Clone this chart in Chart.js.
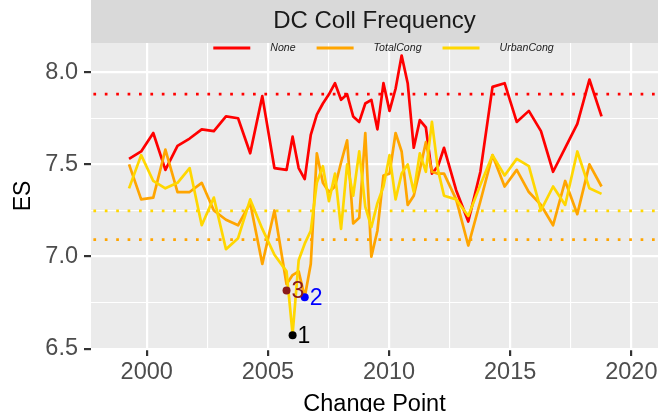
<!DOCTYPE html>
<html>
<head>
<meta charset="utf-8">
<title>DC Coll Frequency</title>
<script src="https://cdn.jsdelivr.net/npm/chart.js@4.4.1/dist/chart.umd.min.js"></script>
<style>
  html, body { margin: 0; padding: 0; background: #ffffff; }
  #es-chart { display: block; }
</style>
</head>
<body>
<canvas id="es-chart" width="662" height="412"></canvas>
<script>
/*global document, Chart*/
(function (document, Chart) {
  "use strict";

  var panelTitle = "DC Coll Frequency";

  // change point (x) shared by all three series
  var years = [
    1999.27, 1999.77, 2000.27, 2000.77, 2001.27, 2001.77, 2002.27, 2002.77,
    2003.27, 2003.77, 2004.27, 2004.77, 2005.27, 2005.77,
    2006.02, 2006.27, 2006.52, 2006.77, 2007.02, 2007.27, 2007.52, 2007.77,
    2008.02, 2008.27, 2008.52, 2008.77, 2009.02, 2009.27, 2009.52, 2009.77,
    2010.02, 2010.27, 2010.52, 2010.77, 2011.02, 2011.27, 2011.52, 2011.77,
    2012.02, 2012.27,
    2012.77, 2013.27, 2013.77, 2014.27, 2014.77, 2015.27, 2015.77, 2016.27,
    2016.77, 2017.27, 2017.77, 2018.27, 2018.77
  ];

  var esNone = [
    7.53, 7.57, 7.67, 7.47, 7.60, 7.64, 7.69, 7.68, 7.76, 7.75, 7.56, 7.87, 7.48, 7.47,
    7.65, 7.48, 7.42, 7.66, 7.77, 7.83, 7.88, 7.94, 7.85, 7.88, 7.76, 7.73, 7.83,
    7.85, 7.69, 7.94, 7.79, 7.91, 8.09, 7.94, 7.59, 7.74, 7.70, 7.45, 7.49, 7.59,
    7.36, 7.19, 7.46, 7.92, 7.94, 7.73, 7.79, 7.68, 7.46, 7.59, 7.72, 7.96, 7.76
  ];

  var esTotalCong = [
    7.50, 7.31, 7.32, 7.58, 7.35, 7.35, 7.40, 7.25, 7.20, 7.17, 7.29, 6.96, 7.25, 6.85,
    6.90, 6.92, 6.78, 6.96, 7.56, 7.40, 7.35, 7.38, 7.51, 7.63, 7.18, 7.21, 7.67,
    7.00, 7.14, 7.44, 7.45, 7.67, 7.57, 7.28, 7.33, 7.47, 7.62, 7.46, 7.45, 7.45,
    7.31, 7.06, 7.30, 7.55, 7.38, 7.47, 7.35, 7.28, 7.17, 7.41, 7.23, 7.50, 7.38
  ];

  var esUrbanCong = [
    7.37, 7.55, 7.41, 7.37, 7.40, 7.48, 7.17, 7.32, 7.04, 7.10, 7.31, 7.15, 7.01, 6.92,
    6.58, 6.98, 7.07, 7.14, 7.40, 7.49, 7.30, 7.45, 7.15, 7.50, 7.33, 7.57, 7.27,
    7.16, 7.29, 7.38, 7.55, 7.31, 7.45, 7.50, 7.35, 7.56, 7.46, 7.73, 7.47, 7.33,
    7.31, 7.22, 7.39, 7.55, 7.44, 7.53, 7.49, 7.25, 7.38, 7.28, 7.57, 7.37, 7.34
  ];

  var seriesNames = ["None", "TotalCong", "UrbanCong"];
  var seriesColors = ["#FF0000", "#FFA500", "#FFD700"];
  // dotted reference level for each series
  var seriesLevels = [7.881, 7.092, 7.248];

  // ranked change points
  var rankYears = [2006.02, 2006.52, 2005.77];
  var rankES = [6.574, 6.780, 6.816];
  var rankLabels = ["1", "2", "3"];
  var rankColors = ["#000000", "#0000FF", "#8B1A1A"];

  var xMajor = [2000, 2005, 2010, 2015, 2020];
  var xMinor = [2002.5, 2007.5, 2012.5, 2017.5];
  var xLabels = ["2000", "2005", "2010", "2015", "2020"];
  var yMajor = [6.5, 7.0, 7.5, 8.0];
  var yMinor = [6.75, 7.25, 7.75];
  var yLabels = ["6.5", "7.0", "7.5", "8.0"];

  var X_MIN = 1997.7, X_MAX = 2021.1;
  var Y_MIN = 6.499, Y_MAX = 8.158;

  var FONT = '"Liberation Sans", Arial, Helvetica, sans-serif';
  var seriesValues = [esNone, esTotalCong, esUrbanCong];

  function toPoints(xs, ys) {
    return xs.map(function (x, i) {
      return {x: x, y: ys[i]};
    });
  }

  function gridTicks(major, minor) {
    return major.concat(minor).sort(function (a, b) { return a - b; })
      .map(function (v) { return {value: v}; });
  }

  function isMajor(list, v) {
    return list.some(function (m) { return Math.abs(m - v) < 1e-6; });
  }

  function labelOf(major, labels, v) {
    var i;
    for (i = 0; i < major.length; i += 1) {
      if (Math.abs(major[i] - v) < 1e-6) {
        return labels[i];
      }
    }
    return "";
  }

  var datasets = [];

  // ranked change points on top
  datasets.push({
    type: "scatter",
    label: "rank",
    data: toPoints(rankYears, rankES),
    pointRadius: 4,
    pointBackgroundColor: rankColors,
    pointBorderWidth: 0,
    order: 0
  });

  seriesNames.forEach(function (name, i) {
    datasets.push({
      type: "line",
      label: name,
      data: toPoints(years, seriesValues[i]),
      borderColor: seriesColors[i],
      borderWidth: 2.7,
      borderJoinStyle: "round",
      pointRadius: 0,
      fill: false,
      order: 3 - i
    });
  });

  seriesLevels.forEach(function (level, i) {
    datasets.push({
      type: "line",
      label: seriesNames[i] + " level",
      data: toPoints([X_MIN, X_MAX], [level, level]),
      borderColor: seriesColors[i],
      borderWidth: 2.7,
      borderDash: [2.7, 8.7],
      borderDashOffset: -2.4,
      borderCapStyle: "butt",
      pointRadius: 0,
      fill: false,
      order: 5
    });
  });

  /////////////////////////////////////////////////////////////////
  // panel background, facet strip, key and point labels
  /////////////////////////////////////////////////////////////////
  var ggFrame = {
    id: "ggFrame",
    beforeDraw: function (chart) {
      var ctx = chart.ctx,
        a = chart.chartArea;
      ctx.save();
      ctx.fillStyle = "#EBEBEB";
      ctx.fillRect(a.left, a.top, a.right - a.left, a.bottom - a.top);
      ctx.fillStyle = "#D9D9D9";
      ctx.fillRect(a.left, 0, a.right - a.left, a.top);
      ctx.fillStyle = "#1A1A1A";
      ctx.font = "24px " + FONT;
      ctx.textAlign = "center";
      ctx.textBaseline = "middle";
      ctx.fillText(panelTitle, (a.left + a.right) / 2, a.top / 2);
      ctx.restore();
    },
    afterDatasetsDraw: function (chart) {
      var ctx = chart.ctx,
        a = chart.chartArea,
        meta = chart.getDatasetMeta(0),
        keyLen = 37,
        gap = 20,
        sep = 21,
        keyY = a.top + 5,
        widths,
        total,
        x;

      ctx.save();
      // key across the top of the panel
      ctx.font = "italic 10.6px " + FONT;
      widths = seriesNames.map(function (n) { return ctx.measureText(n).width; });
      total = widths.reduce(function (s, w) { return s + keyLen + gap + w; }, 0) +
        sep * (seriesNames.length - 1);
      x = (a.left + a.right) / 2 + 9 - total / 2;
      ctx.textAlign = "left";
      ctx.textBaseline = "middle";
      seriesNames.forEach(function (name, i) {
        ctx.strokeStyle = seriesColors[i];
        ctx.lineWidth = 3;
        ctx.beginPath();
        ctx.moveTo(x, keyY);
        ctx.lineTo(x + keyLen, keyY);
        ctx.stroke();
        ctx.fillStyle = "#222222";
        ctx.fillText(name, x + keyLen + gap, keyY);
        x += keyLen + gap + widths[i] + sep;
      });

      // rank numbers next to the change points
      ctx.font = "23px " + FONT;
      meta.data.forEach(function (pt, i) {
        ctx.fillStyle = rankColors[i];
        ctx.fillText(rankLabels[i], pt.x + 5, pt.y + 1);
      });
      ctx.restore();
    }
  };

  new Chart(document.getElementById("es-chart"), {
    data: {datasets: datasets},
    plugins: [ggFrame],
    options: {
      responsive: false,
      animation: false,
      layout: {padding: {top: 43, right: 4, left: 0, bottom: 0}},
      plugins: {
        legend: {display: false},
        tooltip: {enabled: false}
      },
      elements: {line: {tension: 0}},
      scales: {
        x: {
          type: "linear",
          min: X_MIN,
          max: X_MAX,
          afterFit: function (scale) { scale.height = 63; },
          afterBuildTicks: function (scale) { scale.ticks = gridTicks(xMajor, xMinor); },
          border: {display: false},
          grid: {
            color: "#FFFFFF",
            lineWidth: function (c) { return isMajor(xMajor, c.tick.value) ? 2.2 : 1.1; },
            tickLength: 7,
            tickWidth: 2.2,
            tickColor: function (c) {
              return isMajor(xMajor, c.tick.value) ? "#333333" : "rgba(0,0,0,0)";
            }
          },
          ticks: {
            autoSkip: false,
            maxRotation: 0,
            padding: 2,
            color: "#4D4D4D",
            font: {family: FONT, size: 23.5},
            callback: function (v) { return labelOf(xMajor, xLabels, v); }
          },
          title: {
            display: true,
            text: "Change Point",
            color: "#000000",
            font: {family: FONT, size: 23.5, lineHeight: 0.8},
            padding: {top: 0, bottom: -2}
          }
        },
        y: {
          type: "linear",
          min: Y_MIN,
          max: Y_MAX,
          afterFit: function (scale) { scale.width = 91; },
          afterBuildTicks: function (scale) { scale.ticks = gridTicks(yMajor, yMinor); },
          border: {display: false},
          grid: {
            color: "#FFFFFF",
            lineWidth: function (c) { return isMajor(yMajor, c.tick.value) ? 2.2 : 1.1; },
            tickLength: 7,
            tickWidth: 2.2,
            tickColor: function (c) {
              return isMajor(yMajor, c.tick.value) ? "#333333" : "rgba(0,0,0,0)";
            }
          },
          ticks: {
            autoSkip: false,
            padding: 6,
            color: "#4D4D4D",
            font: {family: FONT, size: 23.5},
            callback: function (v) { return labelOf(yMajor, yLabels, v); }
          },
          title: {
            display: true,
            text: "ES",
            color: "#000000",
            font: {family: FONT, size: 23, lineHeight: 1.2},
            padding: {top: 10, bottom: 0}
          }
        }
      }
    }
  });

}(document, Chart));
</script>
</body>
</html>
